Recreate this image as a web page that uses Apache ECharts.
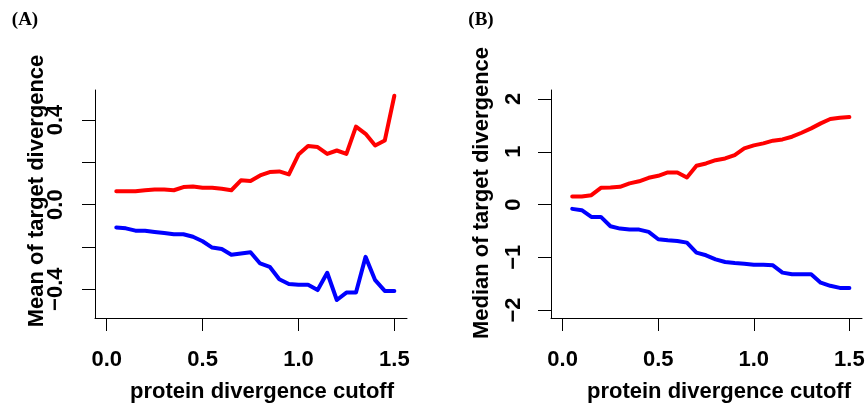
<!DOCTYPE html>
<html>
<head>
<meta charset="utf-8">
<script src="https://cdn.jsdelivr.net/npm/echarts@6/dist/echarts.min.js"></script>
<style>html,body{margin:0;padding:0;background:#fff}#c{width:868px;height:405px}</style>
</head>
<body>
<div id="c"></div>
<script>
// protein divergence cutoffs
const cutoffs = [0.05,0.10,0.15,0.20,0.25,0.30,0.35,0.40,0.45,0.50,0.55,0.60,0.65,0.70,0.75,0.80,0.85,0.90,0.95,1.00,1.05,1.10,1.15,1.20,1.25,1.30,1.35,1.40,1.45,1.50];
// Panel A: mean of target divergence
const meanRed  = [0.063,0.063,0.063,0.068,0.071,0.071,0.068,0.083,0.086,0.080,0.080,0.075,0.068,0.115,0.112,0.138,0.154,0.157,0.143,0.237,0.277,0.272,0.240,0.256,0.240,0.369,0.335,0.280,0.303,0.515];
const meanBlue = [-0.108,-0.112,-0.123,-0.123,-0.129,-0.134,-0.140,-0.140,-0.152,-0.173,-0.203,-0.210,-0.237,-0.231,-0.225,-0.278,-0.294,-0.353,-0.375,-0.379,-0.379,-0.404,-0.322,-0.451,-0.416,-0.415,-0.247,-0.357,-0.408,-0.408];
// Panel B: median of target divergence
const medRed  = [0.152,0.152,0.177,0.316,0.323,0.335,0.400,0.440,0.506,0.544,0.608,0.608,0.513,0.734,0.778,0.840,0.873,0.937,1.063,1.120,1.158,1.210,1.234,1.285,1.360,1.443,1.538,1.620,1.646,1.658];
const medBlue = [-0.082,-0.108,-0.234,-0.234,-0.411,-0.456,-0.475,-0.475,-0.519,-0.658,-0.677,-0.690,-0.722,-0.911,-0.962,-1.038,-1.089,-1.108,-1.120,-1.139,-1.139,-1.152,-1.290,-1.320,-1.320,-1.320,-1.480,-1.540,-1.580,-1.580];
// tick values
const xTicks = [0, 0.5, 1.0, 1.5];
const yTicksA = [-0.4, -0.2, 0, 0.2, 0.4];
const yLabelsA = [-0.4, 0, 0.4];
const yTicksB = [-2, -1, 0, 1, 2];

const FONT = '"Liberation Sans", Arial, Helvetica, sans-serif';
const pairs = (xs, ys) => xs.map((x, i) => [x, ys[i]]);
const minus = s => String(s).replace('-', '\u2212');

function xAxis(gi) {
  return {
    type: 'value', gridIndex: gi, min: -0.061, max: 1.566,
    axisLine: {show: true, onZero: false, lineStyle: {color: '#000', width: 1}},
    axisTick: {show: true, inside: false, length: 13, customValues: xTicks, lineStyle: {color: '#000', width: 1}},
    axisLabel: {customValues: xTicks, formatter: v => v.toFixed(1), margin: 31,
      fontFamily: FONT, fontWeight: 'bold', fontSize: 22, color: '#000'},
    splitLine: {show: false}
  };
}
function yAxis(gi, min, max, ticks, labels, fmt, margin) {
  return {
    type: 'value', gridIndex: gi, min: min, max: max,
    axisLine: {show: true, onZero: false, lineStyle: {color: '#000', width: 1}},
    axisTick: {show: true, inside: false, length: 13, customValues: ticks, lineStyle: {color: '#000', width: 1}},
    axisLabel: {customValues: labels, formatter: fmt, margin: margin, rotate: 90,
      fontFamily: FONT, fontWeight: 'bold', fontSize: 22, color: '#000'},
    splitLine: {show: false}
  };
}
function line(xi, yi, data, color) {
  return {type: 'line', xAxisIndex: xi, yAxisIndex: yi, data: data, showSymbol: false,
    lineStyle: {color: color, width: 4, join: 'round', cap: 'round'}, z: 3, animation: false};
}
function txt(x, y, text, size, rot, family) {
  return {type: 'text', x: x, y: y, rotation: rot || 0,
    style: {text: text, x: 0, y: 0, align: 'center', verticalAlign: 'middle',
      font: 'bold ' + size + 'px ' + (family || FONT), fill: '#000'}};
}

const chart = echarts.init(document.getElementById('c'), null, {renderer: 'canvas'});
chart.setOption({
  animation: false,
  backgroundColor: '#fff',
  grid: [
    {left: 95, top: 90, width: 312, height: 228},
    {left: 551, top: 90, width: 311, height: 228}
  ],
  xAxis: [xAxis(0), xAxis(1)],
  yAxis: [
    yAxis(0, -0.536, 0.542, yTicksA, yLabelsA, v => minus(v.toFixed(1)), 28),
    yAxis(1, -2.15, 2.17, yTicksB, yTicksB, v => minus(Math.round(v)), 26)
  ],
  series: [
    line(0, 0, pairs(cutoffs, meanRed), '#ff0000'),
    line(0, 0, pairs(cutoffs, meanBlue), '#0000ff'),
    line(1, 1, pairs(cutoffs, medRed), '#ff0000'),
    line(1, 1, pairs(cutoffs, medBlue), '#0000ff')
  ],
  graphic: [
    txt(25, 20, '(A)', 19, 0, '"Liberation Serif", "Times New Roman", serif'),
    txt(481, 20, '(B)', 19, 0, '"Liberation Serif", "Times New Roman", serif'),
    txt(37, 191, 'Mean of target divergence', 22, Math.PI / 2),
    txt(482, 193, 'Median of target divergence', 22, Math.PI / 2),
    txt(262, 392, 'protein divergence cutoff', 22),
    txt(719, 392, 'protein divergence cutoff', 22)
  ]
});
</script>
</body>
</html>
